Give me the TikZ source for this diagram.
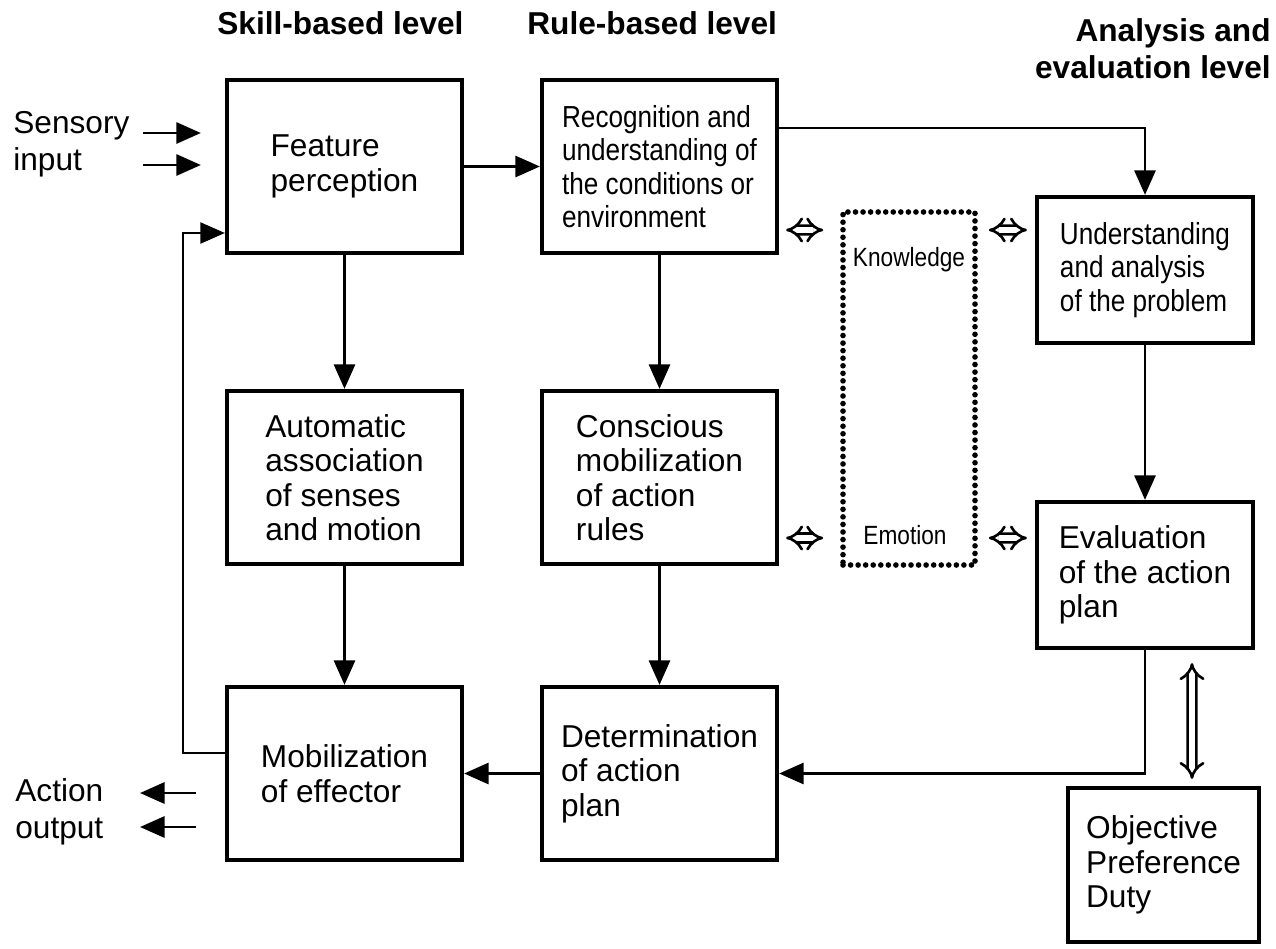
\documentclass[tikz,border=0pt]{standalone}
\usepackage{fontspec}
\setmainfont{Liberation Sans}
\newfontfamily\narrowfont[FakeStretch=0.86]{Liberation Sans}
\usetikzlibrary{arrows.meta}

\begin{document}
\begin{tikzpicture}[
    box/.style={rectangle, draw, line width=2.4pt, align=left, minimum width=4.7cm, minimum height=3.46cm, font=\fontsize{18}{19.6}\selectfont},
    narrowbox/.style={box, font=\narrowfont\fontsize{17.3}{19}\selectfont},
    sidebox/.style={box, minimum width=4.32cm, minimum height=2.92cm},
    membox/.style={rectangle, draw, line width=3.2pt, dash pattern=on 0pt off 4.3pt, line cap=round, minimum width=2.64cm, minimum height=7.06cm},
    memlabel/.style={font=\narrowfont\fontsize{15}{17}\selectfont},
    level/.style={inner sep=0pt, font=\bfseries\fontsize{18}{21}\selectfont},
    plain/.style={inner sep=0pt, align=left, font=\fontsize{18}{21}\selectfont},
    arrow/.style={-{Triangle[length=14pt,width=12pt]}, line width=1.6pt},
    hollow/.tip={Implies[length=7pt, width=17pt]},
    dbl/.style={{hollow}-{hollow}, double, double distance=3.3pt, line width=1.5pt}
]
\useasboundingbox (0,0) rectangle (25.52,-18.96);

% Level headings
\node[level, anchor=west] at (4.34,-0.46) (skill) {Skill-based level};
\node[level, anchor=west] at (10.54,-0.46) (rule) {Rule-based level};
\node[level, anchor=east, align=right] at (25.42,-0.98) (analysis) {Analysis and\\evaluation level};

% Input and output
\node[plain, anchor=west] at (0.26,-2.89) (sensory) {Sensory\\input};
\node[plain, anchor=west] at (0.3,-16.23) (action) {Action\\output};

% Skill-based column
\node[box] at (6.89,-3.33) (feat) {Feature\\perception};
\node[box] at (6.89,-9.55) (assoc) {Automatic\\association\\of senses\\and motion};
\node[box] at (6.89,-15.47) (effector) {Mobilization\\of effector};

% Rule-based column
\node[narrowbox] at (13.19,-3.33) (recog) {Recognition and\\understanding of\\the conditions or\\environment};
\node[box] at (13.19,-9.55) (rules) {Conscious\\mobilization\\of action\\rules};
\node[box] at (13.19,-15.47) (plan) {Determination\\of action\\plan};

% Knowledge and emotion
\node[membox] at (18.18,-7.77) (mem) {};
\node[memlabel] at (18.18,-5.2) (know) {Knowledge};
\node[memlabel] at (18.1,-10.7) (emo) {Emotion};

% Analysis and evaluation column
\node[sidebox, font=\narrowfont\fontsize{17.3}{19}\selectfont] at (22.9,-5.4) (problem) {Understanding\\and analysis\\of the problem};
\node[sidebox] at (22.9,-11.5) (evalplan) {Evaluation\\of the action\\plan};
\node[box, minimum width=3.82cm, minimum height=3.08cm] at (23.27,-17.3) (duty) {Objective\\Preference\\Duty};

% Arrows
\coordinate (in1) at (2.86,-2.66);
\coordinate (in2) at (2.86,-3.3);
\coordinate (out1) at (2.8,-15.86);
\coordinate (out2) at (2.8,-16.54);
\draw[arrow, shorten >=0.48cm] (in1) -- (in1 -| feat.west);
\draw[arrow, shorten >=0.48cm] (in2) -- (in2 -| feat.west);
\draw[arrow, shorten <=0.58cm] (out1 -| effector.west) -- (out1);
\draw[arrow, shorten <=0.58cm] (out2 -| effector.west) -- (out2);

\draw[arrow] (feat) -- (recog);
\draw[arrow] (feat) -- (assoc);
\draw[arrow] (assoc) -- (effector);
\draw[arrow] (recog) -- (rules);
\draw[arrow] (rules) -- (plan);
\draw[arrow] (plan) -- (effector);
\draw[arrow] ([yshift=0.77cm]recog.east) -| (problem.north);
\draw[arrow] (problem) -- (evalplan);
\draw[arrow] (evalplan.south) |- (plan.east);

% Feedback loop
\draw[arrow, line width=1.2pt] ([yshift=0.41cm]effector.west) -- ++(-0.84,0) |- ([yshift=-1.33cm]feat.west);

% Two-way links
\draw[dbl, shorten <=0.14cm, shorten >=0.34cm] ([yshift=-1.27cm]recog.east) -- ([yshift=3.17cm]mem.west);
\draw[dbl, shorten <=0.22cm, shorten >=0.16cm] ([yshift=3.17cm]mem.east) -- ([yshift=0.8cm]problem.west);
\draw[dbl, shorten <=0.14cm, shorten >=0.34cm] ([yshift=-1.21cm]rules.east) -- ([yshift=-2.99cm]mem.west);
\draw[dbl, shorten <=0.22cm, shorten >=0.16cm] ([yshift=-2.99cm]mem.east) -- ([yshift=0.74cm]evalplan.west);
\draw[dbl, shorten <=0.26cm, shorten >=0.14cm] ([xshift=0.94cm]evalplan.south) -- ([xshift=0.57cm]duty.north);

\end{tikzpicture}
\end{document}
